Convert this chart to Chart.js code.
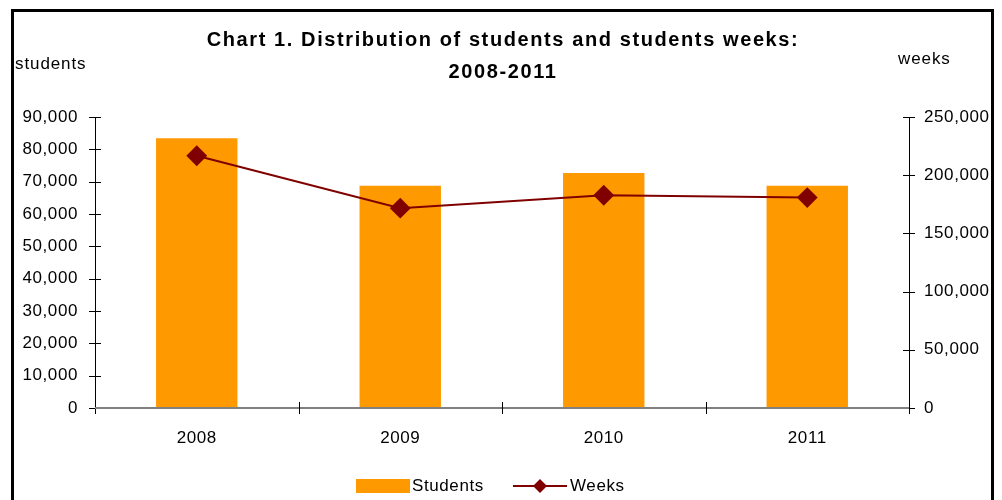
<!DOCTYPE html>
<html>
<head>
<meta charset="utf-8">
<script src="https://cdn.jsdelivr.net/npm/chart.js@4.4.1/dist/chart.umd.min.js"></script>
<style>
  html, body { margin: 0; padding: 0; background: #fff; }
  #wrap { position: relative; width: 1002px; height: 500px; overflow: hidden; }
  #frame { position: absolute; left: 11px; top: 9px; width: 977px; height: 520px; border: 3px solid #000; }
  canvas { position: absolute; left: 0; top: 0; }
</style>
</head>
<body>
<div id="wrap">
  <div id="frame"></div>
  <canvas id="grafico" width="1002" height="500"></canvas>
</div>
<script>
// datos
const years = ['2008', '2009', '2010', '2011']
const students = [83400, 68700, 72700, 68700]
const weeks = [216700, 171700, 182800, 180800]

const titleLines = ['Chart 1. Distribution of students and students weeks:', '2008-2011']
const leftAxisTitle = 'students'
const rightAxisTitle = 'weeks'

const FONT = '"Liberation Sans", Arial, sans-serif'
const fmt = (v) => Number(v).toLocaleString('en-US')

// espaciado de letras para que el texto se parezca al original
const spacing = {
    id: 'spacing',
    beforeDraw(chart) {
        chart.ctx.letterSpacing = '0.6px'
    }
}

// textos, ticks cruzados y leyenda dibujados a mano
const decor = {
    id: 'decor',
    afterDraw(chart) {
        const ctx = chart.ctx
        const area = chart.chartArea
        const y = chart.scales.y
        const y1 = chart.scales.y1
        ctx.save()

        // titulo
        ctx.fillStyle = '#000'
        ctx.textAlign = 'center'
        ctx.textBaseline = 'middle'
        ctx.font = 'bold 20px ' + FONT
        ctx.letterSpacing = '1.6px'
        ctx.fillText(titleLines[0], 503, 40)
        ctx.fillText(titleLines[1], 503, 72)

        // titulos de ejes
        ctx.font = '17px ' + FONT
        ctx.letterSpacing = '0.9px'
        ctx.textAlign = 'left'
        ctx.fillText(leftAxisTitle, 15, 64)
        ctx.fillText(rightAxisTitle, 898, 59)

        // ticks de los ejes verticales (cruzan el eje)
        ctx.strokeStyle = '#000'
        ctx.lineWidth = 1
        y.ticks.forEach(t => {
            const py = Math.round(y.getPixelForValue(t.value)) + 0.5
            ctx.beginPath()
            ctx.moveTo(area.left - 6, py)
            ctx.lineTo(area.left + 6, py)
            ctx.stroke()
        })
        y1.ticks.forEach(t => {
            const py = Math.round(y1.getPixelForValue(t.value)) + 0.5
            ctx.beginPath()
            ctx.moveTo(area.right - 6, py)
            ctx.lineTo(area.right + 6, py)
            ctx.stroke()
        })
        ctx.beginPath()
        ctx.moveTo(Math.round(area.left) + 0.5, area.top)
        ctx.lineTo(Math.round(area.left) + 0.5, area.bottom + 6)
        ctx.moveTo(Math.round(area.right) + 0.5, area.top)
        ctx.lineTo(Math.round(area.right) + 0.5, area.bottom + 6)
        ctx.stroke()

        // eje x gris con ticks entre categorias
        ctx.strokeStyle = '#808080'
        ctx.lineWidth = 2
        ctx.beginPath()
        ctx.moveTo(area.left, area.bottom)
        ctx.lineTo(area.right, area.bottom)
        ctx.stroke()
        ctx.strokeStyle = '#000'
        ctx.lineWidth = 1
        const step = (area.right - area.left) / years.length
        for (let i = 1; i < years.length; i++) {
            const px = Math.round(area.left + step * i) + 0.5
            ctx.beginPath()
            ctx.moveTo(px, area.bottom - 6)
            ctx.lineTo(px, area.bottom + 6)
            ctx.stroke()
        }

        // leyenda
        const barDs = chart.data.datasets.find(d => d.type !== 'line')
        const lineDs = chart.data.datasets.find(d => d.type === 'line')
        const ly = 486
        ctx.font = '17px ' + FONT
        ctx.letterSpacing = '0.6px'
        ctx.fillStyle = barDs.backgroundColor
        ctx.fillRect(356, ly - 7, 54, 14)
        ctx.fillStyle = '#000'
        ctx.fillText(barDs.label, 412, ly)
        ctx.strokeStyle = lineDs.borderColor
        ctx.lineWidth = 2
        ctx.beginPath()
        ctx.moveTo(513, ly)
        ctx.lineTo(567, ly)
        ctx.stroke()
        ctx.fillStyle = lineDs.pointBackgroundColor
        ctx.beginPath()
        ctx.moveTo(540, ly - 7)
        ctx.lineTo(547, ly)
        ctx.lineTo(540, ly + 7)
        ctx.lineTo(533, ly)
        ctx.closePath()
        ctx.fill()
        ctx.fillStyle = '#000'
        ctx.fillText(lineDs.label, 570, ly)

        ctx.restore()
    }
}

const tickFont = { family: FONT, size: 17 }

const canvas = document.getElementById('grafico')
new Chart(canvas, {
    type: 'bar',
    data: {
        labels: years,
        datasets: [{
            type: 'line',
            label: 'Weeks',
            data: weeks,
            yAxisID: 'y1',
            borderColor: '#800000',
            borderWidth: 2,
            backgroundColor: '#800000',
            pointBackgroundColor: '#800000',
            pointBorderColor: '#800000',
            pointStyle: 'rectRot',
            pointRadius: 9,
            tension: 0,
            order: 0
        }, {
            type: 'bar',
            label: 'Students',
            data: students,
            yAxisID: 'y',
            backgroundColor: '#FF9900',
            barPercentage: 0.4,
            categoryPercentage: 1,
            order: 1
        }]
    },
    options: {
        responsive: false,
        animation: false,
        devicePixelRatio: 1,
        layout: { padding: { top: 117, left: 0, right: 0, bottom: 0 } },
        plugins: {
            legend: { display: false },
            title: { display: false },
            tooltip: { enabled: false }
        },
        scales: {
            x: {
                grid: { display: false, drawTicks: false },
                border: { display: false },
                ticks: { color: '#000', font: tickFont, padding: 20 },
                afterFit: (s) => { s.height = 92 }
            },
            y: {
                position: 'left',
                min: 0, max: 90000,
                grid: { display: false, drawTicks: false },
                border: { display: false },
                ticks: { stepSize: 10000, color: '#000', font: tickFont, padding: 17, callback: fmt },
                afterFit: (s) => { s.width = 95 }
            },
            y1: {
                position: 'right',
                min: 0, max: 250000,
                grid: { display: false, drawTicks: false },
                border: { display: false },
                ticks: { stepSize: 50000, color: '#000', font: tickFont, padding: 15, callback: fmt },
                afterFit: (s) => { s.width = 93 }
            }
        }
    },
    plugins: [spacing, decor]
})
</script>
</body>
</html>
